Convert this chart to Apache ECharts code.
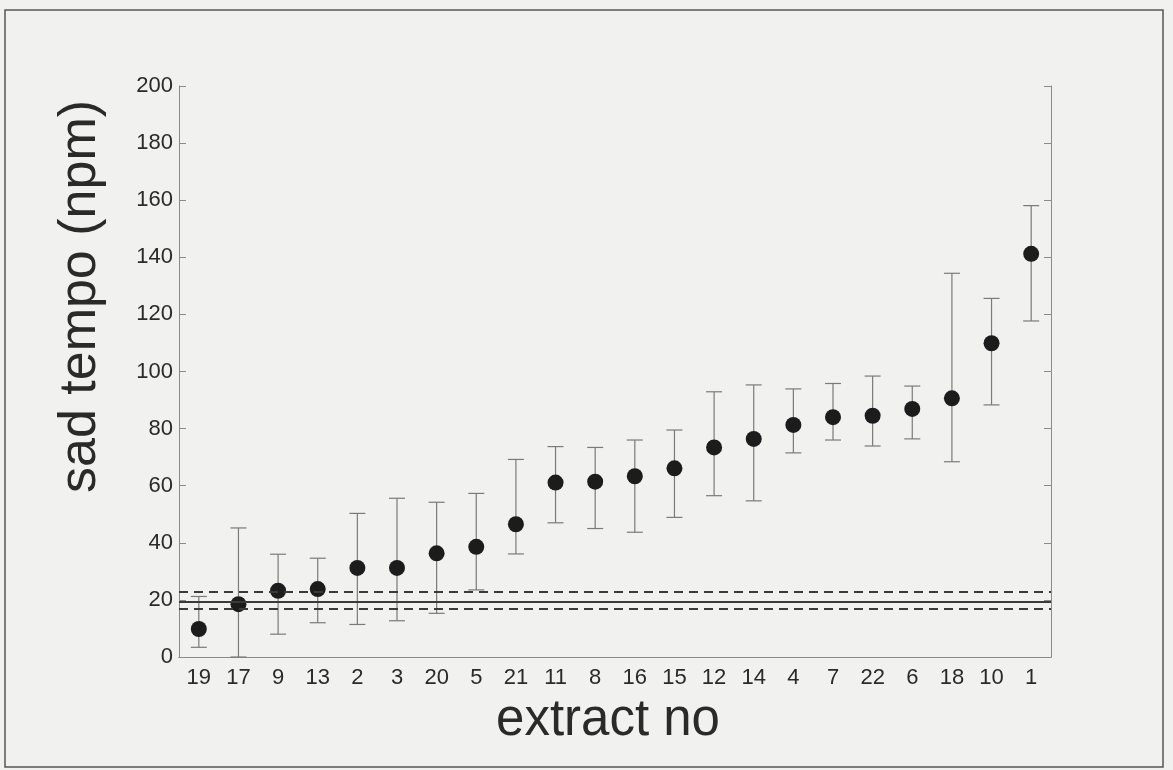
<!DOCTYPE html>
<html><head><meta charset="utf-8">
<script src="https://cdn.jsdelivr.net/npm/echarts@6/dist/echarts.min.js"></script>
<style>html,body{margin:0;padding:0;background:#f1f1f0}#c{width:1173px;height:770px}</style>
</head><body><div id="c"></div>
<script>
const categories = ['19','17','9','13','2','3','20','5','21','11','8','16','15','12','14','4','7','22','6','18','10','1'];
const means = [9.8, 18.5, 23.2, 23.8, 31.2, 31.2, 36.3, 38.6, 46.5, 61.1, 61.4, 63.3, 66.1, 73.4, 76.4, 81.3, 84.0, 84.5, 86.9, 90.6, 109.9, 141.2];
const upper = [21.2, 45.2, 36.0, 34.6, 50.3, 55.6, 54.2, 57.3, 69.2, 73.7, 73.4, 76.0, 79.5, 92.9, 95.3, 93.9, 95.8, 98.4, 94.9, 134.4, 125.6, 158.1];
const lower = [3.4, 0, 8.0, 12.0, 11.4, 12.7, 15.3, 23.5, 36.1, 47.0, 45.0, 43.7, 48.9, 56.5, 54.7, 71.5, 76.0, 73.9, 76.4, 68.4, 88.3, 117.7];
const refSolid = [19.4];
const refDashed = [22.8, 17.0];
const yTicks = {min: 0, max: 200, interval: 20};

const chart = echarts.init(document.getElementById('c'), null, {renderer: 'canvas'});
const font = 'Liberation Sans, Arial, sans-serif';
const axisCol = '#8a8a8a';
const errData = categories.map((c, i) => [i, lower[i], upper[i]]);

const markLineData = [
  ...refSolid.map(v => ({yAxis: v, lineStyle: {type: 'solid'}})),
  ...refDashed.map(v => ({yAxis: v, lineStyle: {type: [9, 6]}}))
];

chart.setOption({
  backgroundColor: '#f1f1f0',
  animation: false,
  graphic: [{
    type: 'rect', shape: {x: 5, y: 10, width: 1158, height: 757},
    style: {fill: 'none', stroke: '#555', lineWidth: 1.5}, silent: true, z: -1
  }],
  grid: {left: 179, right: 122, top: 86, bottom: 113},
  xAxis: [{
    type: 'category', data: categories, position: 'bottom',
    axisLine: {lineStyle: {color: axisCol, width: 1}},
    axisTick: {inside: true, alignWithLabel: true, length: 7, lineStyle: {color: axisCol}},
    axisLabel: {color: '#2a2a2a', fontSize: 22, fontFamily: font, margin: 10},
    name: 'extract no', nameLocation: 'middle', nameGap: 38,
    nameTextStyle: {color: '#2a2a2a', fontSize: 51, fontFamily: font, padding: [0, 14, 0, 0]},
    splitLine: {show: false}
  }, {
    type: 'category', data: categories, position: 'top',
    axisLine: {lineStyle: {color: axisCol, width: 1}},
    axisTick: {inside: true, alignWithLabel: true, length: 7, lineStyle: {color: axisCol}},
    axisLabel: {show: false}, splitLine: {show: false}
  }],
  yAxis: [{
    type: 'value', min: yTicks.min, max: yTicks.max, interval: yTicks.interval, position: 'left',
    axisLine: {show: true, lineStyle: {color: axisCol, width: 1}},
    axisTick: {show: true, inside: true, length: 7, lineStyle: {color: axisCol}},
    axisLabel: {color: '#2a2a2a', fontSize: 22, fontFamily: font, margin: 6},
    splitLine: {show: false},
    name: 'sad tempo (npm)', nameLocation: 'middle', nameGap: 72,
    nameTextStyle: {color: '#2a2a2a', fontSize: 52, fontFamily: font, padding: [0, 0, 0, 150]}
  }, {
    type: 'value', min: yTicks.min, max: yTicks.max, interval: yTicks.interval, position: 'right',
    axisLine: {show: true, lineStyle: {color: axisCol, width: 1}},
    axisTick: {show: true, inside: true, length: 7, lineStyle: {color: axisCol}},
    axisLabel: {show: false}, splitLine: {show: false}
  }],
  series: [{
    type: 'custom', xAxisIndex: 0, yAxisIndex: 0, data: errData, z: 2,
    renderItem: function (params, api) {
      const x = api.value(0);
      const lo = api.coord([x, api.value(1)]);
      const hi = api.coord([x, api.value(2)]);
      const hw = 8;
      const st = {stroke: '#7a7a7a', lineWidth: 1.2};
      return {type: 'group', children: [
        {type: 'line', shape: {x1: lo[0], y1: lo[1], x2: hi[0], y2: hi[1]}, style: st},
        {type: 'line', shape: {x1: hi[0] - hw, y1: hi[1], x2: hi[0] + hw, y2: hi[1]}, style: st},
        {type: 'line', shape: {x1: lo[0] - hw, y1: lo[1], x2: lo[0] + hw, y2: lo[1]}, style: st}
      ]};
    }
  }, {
    type: 'scatter', xAxisIndex: 0, yAxisIndex: 0, data: means, symbol: 'circle', symbolSize: 16, z: 4,
    itemStyle: {color: '#1c1c1c', opacity: 1},
    markLine: {
      symbol: ['none', 'none'], silent: true, label: {show: false},
      lineStyle: {color: '#3a3a3a', width: 2}, data: markLineData
    }
  }]
});
</script></body></html>
